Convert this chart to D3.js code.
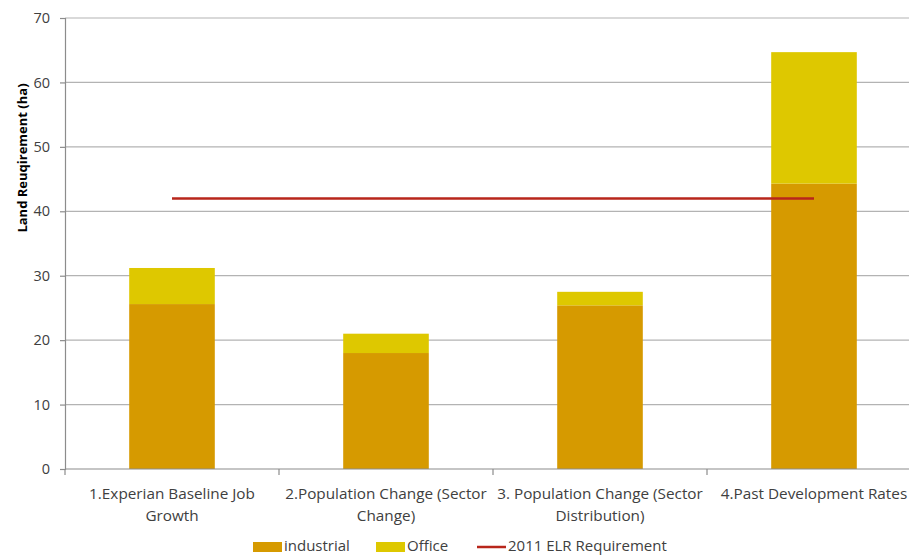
<!DOCTYPE html>
<html>
<head>
<meta charset="utf-8">
<script src="https://cdn.jsdelivr.net/npm/d3@7"></script>
<style>
  html, body { margin: 0; padding: 0; background: #fff; }
  svg { display: block; font-family: "Open Sans", Lato, sans-serif; }
</style>
</head>
<body>
<svg id="chart" width="909" height="555"></svg>
<script>
// Scenario categories (each label split over its wrapped lines)
const categories = [
  "1.Experian Baseline Job Growth",
  "2.Population Change (Sector Change)",
  "3. Population Change (Sector Distribution)",
  "4.Past Development Rates"
];
const categoryLines = [
  ["1.Experian Baseline Job", "Growth"],
  ["2.Population Change (Sector", "Change)"],
  ["3. Population Change (Sector", "Distribution)"],
  ["4.Past Development Rates"]
];
// Land requirement (ha) per scenario
const industrial = [25.6, 18.0, 25.4, 44.3];
const office     = [5.6, 3.0, 2.1, 20.4];
// 2011 ELR requirement (ha), same for every scenario
const elrRequirement = [42.0, 42.0, 42.0, 42.0];
const yTicks = [0, 10, 20, 30, 40, 50, 60, 70];
const seriesNames = ["industrial", "Office", "2011 ELR Requirement"];

const colors = { industrial: "#D69A00", Office: "#DEC800", line: "#B8261B" };
const textColor = "#404040";

const svg = d3.select("#chart");
const margin = { left: 65, top: 18, bottom: 469 };
const bandWidth = 214;

const x = d3.scaleBand()
  .domain(categories)
  .range([margin.left, margin.left + bandWidth * categories.length])
  .paddingInner(0.6).paddingOuter(0.3);
const y = d3.scaleLinear().domain([0, 70]).range([margin.bottom, margin.top]);

// gridlines
svg.append("g")
  .selectAll("line")
  .data(yTicks.filter(t => t > 0))
  .join("line")
  .attr("x1", margin.left).attr("x2", 909)
  .attr("y1", d => y(d)).attr("y2", d => y(d))
  .attr("stroke", "#b3b3b3").attr("stroke-width", 1.2);

// stacked bars
const rows = categories.map((c, i) => ({ cat: c, industrial: industrial[i], Office: office[i] }));
const stack = d3.stack().keys(["industrial", "Office"])(rows);
svg.append("g")
  .selectAll("g")
  .data(stack)
  .join("g")
  .attr("fill", d => colors[d.key])
  .selectAll("rect")
  .data(d => d)
  .join("rect")
  .attr("x", d => x(d.data.cat))
  .attr("width", x.bandwidth())
  .attr("y", d => y(d[1]))
  .attr("height", d => y(d[0]) - y(d[1]));

// ELR requirement line through bar centres
const line = d3.line()
  .x((d, i) => x(categories[i]) + x.bandwidth() / 2)
  .y(d => y(d));
svg.append("path")
  .datum(elrRequirement)
  .attr("d", line)
  .attr("fill", "none")
  .attr("stroke", colors.line)
  .attr("stroke-width", 2.5);

// y axis
const yAxis = svg.append("g")
  .attr("transform", `translate(${margin.left},0)`)
  .call(d3.axisLeft(y).tickValues(yTicks).tickSize(5).tickPadding(10));
yAxis.select(".domain").attr("stroke", "#8c8c8c").attr("stroke-width", 1.2);
yAxis.selectAll(".tick line").attr("stroke", "#8c8c8c").attr("stroke-width", 1.2);
yAxis.selectAll(".tick text")
  .attr("font-family", "'Open Sans', sans-serif")
  .attr("font-size", 14.5).attr("fill", textColor);

// x axis with boundary ticks between categories
svg.append("line")
  .attr("x1", margin.left).attr("x2", 909)
  .attr("y1", y(0)).attr("y2", y(0))
  .attr("stroke", "#8c8c8c").attr("stroke-width", 1.2);
svg.append("g")
  .selectAll("line")
  .data(d3.range(categories.length + 1))
  .join("line")
  .attr("x1", i => margin.left + i * bandWidth)
  .attr("x2", i => margin.left + i * bandWidth)
  .attr("y1", y(0)).attr("y2", y(0) + 6)
  .attr("stroke", "#8c8c8c").attr("stroke-width", 1.2);

// category labels
const labels = svg.append("g")
  .selectAll("text")
  .data(categories)
  .join("text")
  .attr("text-anchor", "middle")
  .attr("font-size", 15.3)
  .attr("fill", textColor)
  .attr("transform", d => `translate(${x(d) + x.bandwidth() / 2},${y(0) + 30})`);
labels.selectAll("tspan")
  .data((d, i) => categoryLines[i])
  .join("tspan")
  .attr("x", 0)
  .attr("dy", (d, j) => j === 0 ? 0 : 22)
  .text(d => d);

// y axis title
svg.append("text")
  .attr("transform", "translate(27,158) rotate(-90)")
  .attr("text-anchor", "middle")
  .attr("font-size", 13)
  .attr("font-weight", "bold")
  .attr("fill", "#000")
  .text("Land Reuqirement (ha)");

// legend
const legend = svg.append("g").attr("font-size", 15).attr("fill", textColor);
const legendItems = [
  { name: seriesNames[0], x: 253, type: "rect", color: colors.industrial },
  { name: seriesNames[1], x: 376, type: "rect", color: colors.Office },
  { name: seriesNames[2], x: 477, type: "line", color: colors.line }
];
legendItems.forEach(it => {
  if (it.type === "rect") {
    legend.append("rect").attr("x", it.x).attr("y", 542).attr("width", 29).attr("height", 10).attr("fill", it.color);
  } else {
    legend.append("line").attr("x1", it.x).attr("x2", it.x + 29).attr("y1", 547).attr("y2", 547)
      .attr("stroke", it.color).attr("stroke-width", 2.5);
  }
  legend.append("text").attr("x", it.x + 31).attr("y", 550.5).text(it.name);
});
</script>
</body>
</html>
